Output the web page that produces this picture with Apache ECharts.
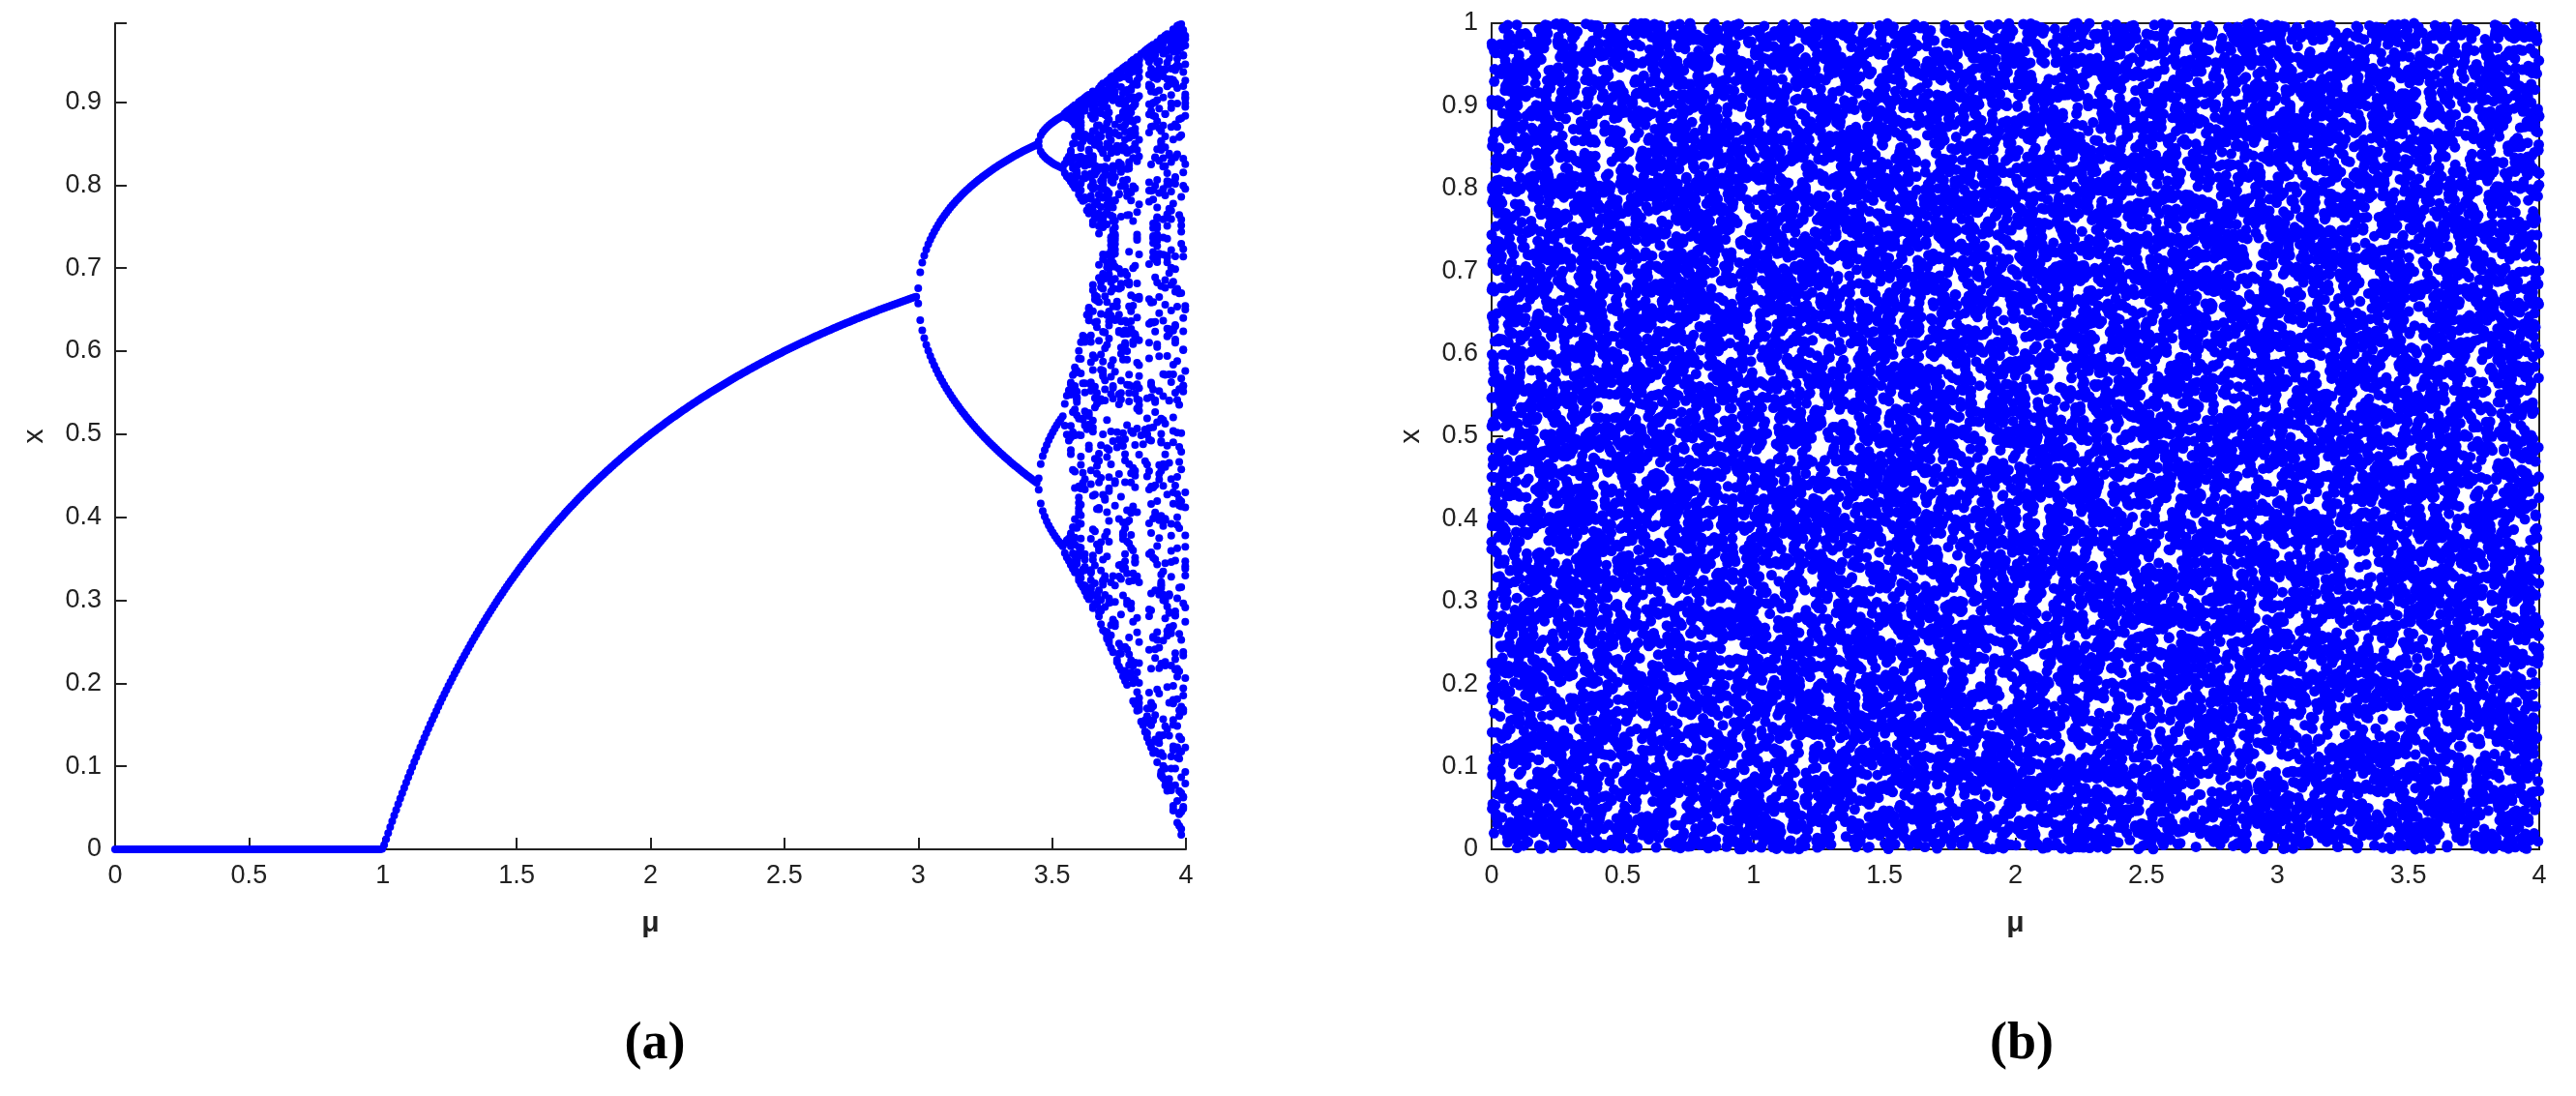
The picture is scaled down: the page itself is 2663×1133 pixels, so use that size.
<!DOCTYPE html>
<html><head><meta charset="utf-8">
<script src="https://cdn.jsdelivr.net/npm/echarts@6/dist/echarts.min.js"></script>
<style>html,body{margin:0;background:#fff}#c{width:2663px;height:1133px}</style>
</head><body><div id="c"></div>
<script>
// Panel (a): logistic map bifurcation settings (map x -> mu*x*(1-x))
const muStart = 0, muEnd = 4, muStep = 0.0075;
const transient = 600, keep = 30, x0 = 0.3;
// Panel (b): chaotic sequence scatter (logistic map at mu=4)
const chaosCount = 20000, seedA = 0.3141, seedB = 0.7182;
const xTicks = [0, 0.5, 1, 1.5, 2, 2.5, 3, 3.5, 4];
const yTicksA = [0, 0.1, 0.2, 0.3, 0.4, 0.5, 0.6, 0.7, 0.8, 0.9];

const bif = [];
for (let m = muStart; m <= muEnd + 1e-9; m += muStep) {
  let x = x0;
  for (let i = 0; i < transient; i++) x = m * x * (1 - x);
  const seen = new Set();
  for (let i = 0; i < keep; i++) {
    x = m * x * (1 - x);
    const k = x.toFixed(3);
    if (seen.has(k)) continue;
    seen.add(k);
    bif.push([m, x]);
  }
}
const sc = [];
let a = seedA, b = seedB;
for (let i = 0; i < chaosCount; i++) {
  a = 4 * a * (1 - a); b = 4 * b * (1 - b);
  const ua = 2 / Math.PI * Math.asin(Math.sqrt(a));
  const ub = 2 / Math.PI * Math.asin(Math.sqrt(b));
  sc.push([4 * ua, ub]);
}
const font = '"Liberation Sans", Arial, sans-serif';
function xa(i){return {gridIndex:i,type:'value',min:0,max:4,interval:0.5,name:'μ',nameLocation:'middle',nameGap:62,
  nameTextStyle:{fontSize:30,fontWeight:'bold',color:'#222',fontFamily:font},
  axisLine:{onZero:false,lineStyle:{color:'#222',width:2}},axisTick:{inside:true,length:12,lineStyle:{color:'#222',width:2}},
  axisLabel:{fontSize:27,color:'#222',fontFamily:font,margin:14},splitLine:{show:false}};}
function ya(i,max){return {gridIndex:i,type:'value',min:0,max:max,interval:0.1,name:'x',nameLocation:'middle',nameGap:68,
  nameTextStyle:{fontSize:30,color:'#222',fontFamily:font},
  axisLine:{lineStyle:{color:'#222',width:2}},axisTick:{inside:true,length:12,lineStyle:{color:'#222',width:2}},
  axisLabel:{fontSize:27,color:'#222',fontFamily:font,margin:14,formatter:v=>(i===0&&v>=0.995)?'':String(+v.toFixed(1))},splitLine:{show:false}};}
const chart = echarts.init(document.getElementById('c'));
chart.setOption({
  backgroundColor:'#fff', animation:false,
  grid:[{left:119,top:24,width:1107,height:854},
        {left:1542,top:24,width:1083,height:854,show:true,borderColor:'#222',borderWidth:2}],
  xAxis:[xa(0),xa(1)],
  yAxis:[ya(0,0.995),ya(1,1)],
  title:[{text:'(a)',left:672,top:1048,textAlign:'center',textStyle:{fontFamily:'"Liberation Serif", serif',fontSize:54,fontWeight:'bold',color:'#000'}},
         {text:'(b)',left:2085,top:1048,textAlign:'center',textStyle:{fontFamily:'"Liberation Serif", serif',fontSize:54,fontWeight:'bold',color:'#000'}}],
  series:[
    {type:'scatter',xAxisIndex:0,yAxisIndex:0,data:bif,symbolSize:8,itemStyle:{color:'#0000ff',opacity:1},large:true,largeThreshold:100000,progressive:0},
    {type:'scatter',xAxisIndex:1,yAxisIndex:1,data:sc,symbolSize:11,itemStyle:{color:'#0000ff',opacity:1},large:true,largeThreshold:100000,progressive:0}
  ]
});
</script></body></html>
